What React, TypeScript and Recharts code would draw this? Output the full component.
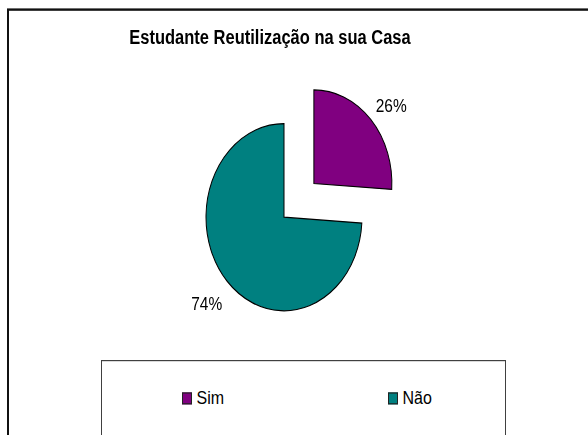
import { PieChart, Pie, Cell, Legend } from "recharts";

const categories = ["Sim", "Não"];
const shares = [26, 74];
const colors = ["#800080", "#008080"];
const title = "Estudante Reutilização na sua Casa";

const data = categories.map((name, i) => ({ name, value: shares[i] }));

// the original picture is stretched vertically, so draw flat and scale up
const W = 588;
const H = 435;
const SY = 1.2;
const CH = H / SY;
const CX = 284;
const CY = 181;
const R = 78;
const EXPLODE = 41;
const RAD = Math.PI / 180;
const FONT = "'Liberation Sans', Arial, sans-serif";

const total = shares.reduce((a, b) => a + b, 0);
const firstMid = 90 - (shares[0] / total) * 180;
const dx = EXPLODE * Math.cos(firstMid * RAD);
const dy = -EXPLODE * Math.sin(firstMid * RAD);

function pctLabel(show: number) {
  return (p: any) => {
    if (p.index !== show) return <g />;
    const x = p.cx + (p.outerRadius + 28) * Math.cos(-p.midAngle * RAD);
    const y = p.cy + (p.outerRadius + 22) * Math.sin(-p.midAngle * RAD) + 3.5;
    return (
      <text x={x} y={y} textAnchor="middle" dominantBaseline="central" fontSize={15.5} fontFamily={FONT} fill="#000">
        {Math.round(p.percent * 100)}%
      </text>
    );
  };
}

function renderLegend(props: any) {
  const items = (props.payload || [])
    .filter((e: any) => e.color && e.color !== "none")
    .sort((a: any, b: any) => categories.indexOf(a.value) - categories.indexOf(b.value));
  return (
    <div style={{ display: "flex", paddingLeft: 79.5, paddingTop: 22, fontFamily: FONT, fontSize: 16, lineHeight: "18px" }}>
      {items.map((e: any) => (
        <div key={e.value} style={{ display: "flex", alignItems: "center", width: 206, flexShrink: 0 }}>
          <span style={{ width: 10, height: 10, background: e.color, border: "1px solid #222", boxSizing: "border-box", marginRight: 5 }} />
          <span>{e.value}</span>
        </div>
      ))}
    </div>
  );
}

export default function App() {
  return (
    <div style={{ position: "absolute", left: 0, top: 0, width: W, height: H, overflow: "hidden", background: "#fff" }}>
      <div style={{ position: "relative", width: W, height: CH, transform: `scaleY(${SY})`, transformOrigin: "0 0" }}>
        <div style={{ position: "absolute", left: 7, top: 7, width: 640, height: 420, border: "2px solid #111", boxSizing: "border-box" }} />
        <PieChart width={W} height={CH} margin={{ top: 0, right: 0, bottom: 0, left: 0 }}>
          <text x={270} y={37} textAnchor="middle" fontSize={16.5} fontWeight="bold" fontFamily={FONT} fill="#000">
            {title}
          </text>
          <Pie
            data={data}
            dataKey="value"
            nameKey="name"
            cx={CX}
            cy={CY}
            outerRadius={R}
            startAngle={90}
            endAngle={-270}
            stroke="#000"
            strokeWidth={1}
            label={pctLabel(1)}
            labelLine={false}
            isAnimationActive={false}
          >
            {data.map((d, i) => (
              <Cell key={d.name} fill={i === 1 ? colors[i] : "none"} stroke={i === 1 ? "#000" : "none"} />
            ))}
          </Pie>
          <Pie
            data={data}
            dataKey="value"
            nameKey="name"
            cx={CX + dx}
            cy={CY + dy}
            outerRadius={R}
            startAngle={90}
            endAngle={-270}
            stroke="#000"
            strokeWidth={1}
            label={pctLabel(0)}
            labelLine={false}
            isAnimationActive={false}
          >
            {data.map((d, i) => (
              <Cell key={d.name} fill={i === 0 ? colors[i] : "none"} stroke={i === 0 ? "#000" : "none"} />
            ))}
          </Pie>
          <Legend
            content={renderLegend}
            wrapperStyle={{
              position: "absolute",
              left: 101,
              top: 300,
              width: 405,
              height: 90,
              border: "1.5px solid #404040",
              boxSizing: "border-box",
              background: "#fff",
            }}
          />
        </PieChart>
      </div>
    </div>
  );
}
